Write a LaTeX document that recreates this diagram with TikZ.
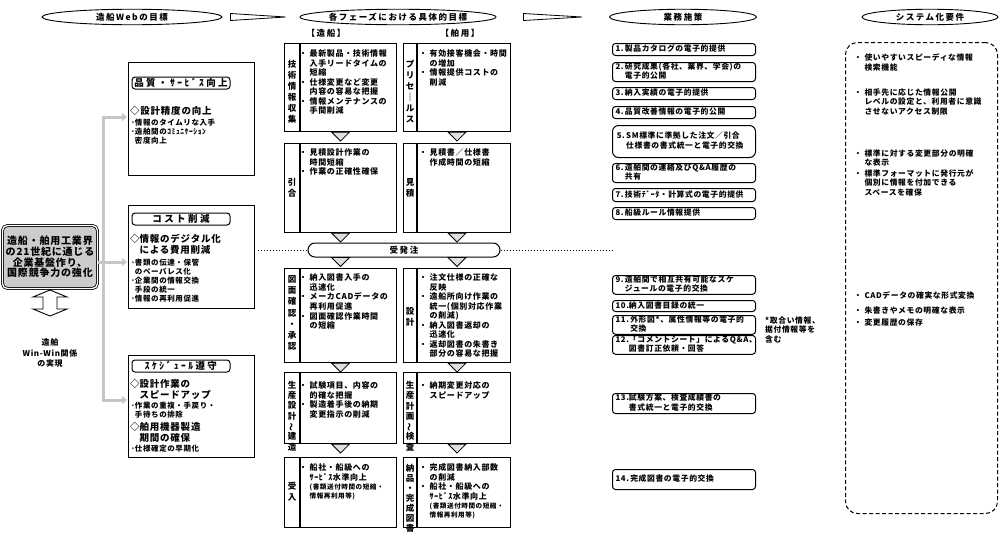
\documentclass[tikz,border=0pt]{standalone}
\usepackage{fontspec}
\setmainfont{Noto Sans CJK JP}[LetterSpace=8]
\newfontfamily\jpwide{Noto Sans CJK JP}[LetterSpace=18]
\newfontfamily\jpwider{Noto Sans CJK JP}[LetterSpace=26]
\usetikzlibrary{shapes.geometric,calc,arrows.meta}
\newcommand\bl[1]{\begin{tabular}{@{}l@{\hspace{2.5pt}}l@{}}#1\end{tabular}}
\newcommand\sbl[1]{\begin{tabular}{@{}l@{}l@{}}#1\end{tabular}}
\newcommand\vtl{\rotatebox[origin=c]{90}{～}}
\newcommand\smf{\fontsize{6.6}{8.9}\selectfont}
\begin{document}
\begin{tikzpicture}[x=1pt,y=-1pt,
 hdr/.style={draw, line width=0.9pt, ellipse, inner sep=0pt, minimum height=15.5pt, font=\jpwide\bfseries\fontsize{8.5}{10}\selectfont},
 shdr/.style={inner sep=0pt, font=\jpwide\bfseries\fontsize{8.5}{10}\selectfont},
 wedge/.style={draw, line width=0.8pt, fill=white},
 gbox/.style={draw, line width=1.1pt, anchor=north west, inner sep=0pt, minimum width=126pt},
 gtitle/.style={draw, line width=1pt, rounded corners=3pt, minimum width=98pt, minimum height=12pt, inner sep=0pt, font=\jpwider\bfseries\fontsize{9.5}{11}\selectfont},
 dtxt/.style={anchor=north west, inner sep=0pt, font=\bfseries\fontsize{9.5}{11.5}\selectfont},
 gtxt/.style={anchor=north west, inner sep=0pt, font=\bfseries\fontsize{7.5}{8.9}\selectfont},
 stxt/.style={anchor=north west, inner sep=0pt, font=\bfseries\fontsize{8}{8.9}\selectfont},
 ctxt/.style={anchor=north west, inner sep=0pt, font=\bfseries\fontsize{7.8}{8.9}\selectfont},
 pbox/.style={draw, line width=1.1pt, anchor=north west, inner sep=0pt},
 vlab/.style={align=center, inner sep=0pt, font=\bfseries\fontsize{8.5}{11}\selectfont},
 tri/.style={draw, line width=0.8pt, fill=gray!25},
 gl/.style={draw=gray!45, line width=3pt},
 gar/.style={draw=gray!45, line width=3pt, -{Triangle[length=5pt,width=8pt]}, shorten >=1pt},
 mbox/.style={draw, line width=1pt, rounded corners=3pt, anchor=north west, minimum width=143pt, text width=137pt, inner xsep=3pt, inner ysep=0pt, align=left, font=\bfseries\fontsize{7.8}{8.9}\selectfont},
 sysbox/.style={draw, dash pattern=on 4pt off 2.5pt, line width=1pt, rounded corners=12pt, anchor=north west, minimum width=152pt, minimum height=471pt, inner sep=0pt}
]
\useasboundingbox (0,0) rectangle (1000,533);
\fill[white] (0,0) rectangle (1000,533);

% ---------- headers ----------
\node[hdr, minimum width=180pt] (h1) at (132,17) {造船Webの目標};
\node[hdr, minimum width=196pt] (h2) at (398,17) {各フェーズにおける具体的目標};
\node[hdr, minimum width=147pt] (h3) at (683,17) {業務施策};
\node[hdr, minimum width=136pt] (h4) at (930,17) {システム化要件};
\coordinate (w1s) at ($(h1.east)+(8,0)$);
\coordinate (w1e) at ($(h2.west)+(-14,0)$);
\coordinate (w2s) at ($(h2.east)+(27,0)$);
\coordinate (w2e) at ($(h3.west)+(-27,0)$);
\draw[wedge] ($(w1s)+(0,-3.5)$) -- (w1e) -- ($(w1s)+(0,3.5)$) -- cycle;
\draw[wedge] ($(w2s)+(0,-3.5)$) -- (w2e) -- ($(w2s)+(0,3.5)$) -- cycle;
\node[shdr] (zs) at (326,33) {【造船】};
\node[shdr] (hy) at (460,33) {【舶用】};

% ---------- left main box ----------
\node[draw, double, double distance=1.3pt, line width=0.8pt, fill=gray!40, rounded corners=5pt, minimum width=95pt, minimum height=63pt, align=center, inner sep=0pt, font=\bfseries\fontsize{10}{10.8}\selectfont] (main) at (50,257) {造船・舶用工業界\\の21世紀に通じる\\企業基盤作り、\\国際競争力の強化};
\draw[line width=0.9pt, fill=white] (50,290) -- (67,297) -- (57,297) -- (57,309) -- (67,309) -- (50,316) -- (33,309) -- (43,309) -- (43,297) -- (33,297) -- cycle;
\node[font=\bfseries\fontsize{8}{10.5}\selectfont, align=center, inner sep=0pt] (ww) at (50,353) {造舶\\Win-Win関係\\の実現};

% ---------- column 2 ----------
\node[gbox, minimum height=113pt] (g1) at (128,62) {};
\node[gtitle] (g1t) at (181,83) {品質・ｻｰﾋﾞｽ向上};
\node[dtxt] (g1a) at (130,105.6) {◇設計精度の向上};
\node[gtxt] (g1b) at (131,118.7) {\sbl{･&情報のタイムリな入手\\･&造舶間のｺﾐｭﾆｹｰｼｮﾝ\\&密度向上}};

\node[gbox, minimum height=103pt] (g2) at (128,205) {};
\node[gtitle] (g2t) at (181,219) {コスト削減};
\node[dtxt] (g2a) at (130,233.6) {\sbl{◇&情報のデジタル化\\&による費用削減}};
\node[gtxt] (g2b) at (131,258.7) {\sbl{･&書類の伝達・保管\\&のペーパレス化\\･&企業間の情報交換\\&手段の統一\\･&情報の再利用促進}};

\node[gbox, minimum height=102pt] (g3) at (128,355) {};
\node[gtitle] (g3t) at (181,366) {ｽｹｼﾞｭｰﾙ遵守};
\node[dtxt] (g3a) at (130,378.6) {\sbl{◇&設計作業の\\&スピードアップ}};
\node[gtxt] (g3b) at (131,401.7) {\sbl{･&作業の重複・手戻り・\\&手待ちの排除}};
\node[dtxt] (g3c) at (130,421.6) {\sbl{◇&舶用機器製造\\&期間の確保}};
\node[gtxt] (g3d) at (131,444.7) {\sbl{･&仕様確定の早期化}};

% gray connectors
\coordinate (gv1) at (103,117);
\coordinate (gv3) at (103,400);
\coordinate (m2) at ([yshift=-5pt]main.east);
\draw[gl] ([yshift=1.5pt]gv1) -- (gv3);
\draw[gar] (gv1) -- (gv1 -| g1.west);
\draw[gar] (m2) -- (m2 -| g2.west);
\draw[gar] ([xshift=-1.5pt]gv3) -- (gv3 -| g3.west);

% ---------- phase boxes ----------
\node[pbox, minimum width=112pt, minimum height=88pt] (s1) at (284,43) {};
\node[pbox, minimum width=112pt, minimum height=89pt] (s2) at (284,143) {};
\node[pbox, minimum width=112pt, minimum height=94pt] (s3) at (284,268) {};
\node[pbox, minimum width=112pt, minimum height=71pt] (s4) at (284,372) {};
\node[pbox, minimum width=112pt, minimum height=70pt] (s5) at (284,457) {};
\node[pbox, minimum width=107pt, minimum height=88pt] (m1) at (403,43) {};
\node[pbox, minimum width=107pt, minimum height=89pt] (m2b) at (403,143) {};
\node[pbox, minimum width=107pt, minimum height=94pt] (m3) at (403,268) {};
\node[pbox, minimum width=107pt, minimum height=71pt] (m4) at (403,372) {};
\node[pbox, minimum width=107pt, minimum height=70pt] (m5) at (403,457) {};
\foreach \n in {s1,s2,s3,s4,s5}
  \draw[line width=1.1pt] ([xshift=16pt]\n.north west) -- ([xshift=16pt]\n.south west);
\foreach \n in {m1,m2b,m3,m4,m5}
  \draw[line width=1.1pt] ([xshift=14pt]\n.north west) -- ([xshift=14pt]\n.south west);

% order bar
\node[draw, line width=1pt, rounded corners=7pt, minimum width=192pt, minimum height=14pt, inner sep=0pt, fill=white, font=\jpwide\bfseries\fontsize{8.5}{10}\selectfont] (bar) at (404,250) {受発注};
\coordinate (dl) at (258,250);
\coordinate (dr) at (612,250);
\draw[dotted, line width=1pt] (dl) -- (bar.west);
\draw[dotted, line width=1pt] (bar.east) -- (dr);

% triangles
\foreach \n in {s1,s2,s3,s4,m1,m2b,m3,m4}
  \draw[tri] ([xshift=-9pt]\n.south) -- ([xshift=9pt]\n.south) -- ([yshift=-9pt]\n.south) -- cycle;
\coordinate (ta) at (s3.north |- bar.south);
\coordinate (tb) at (m3.north |- bar.south);
\foreach \c in {ta,tb}
  \draw[tri] ([xshift=-9pt]\c) -- ([xshift=9pt]\c) -- ([yshift=-9pt]\c) -- cycle;

% labels
\node[vlab] (s1l) at (292,92) {技\\術\\情\\報\\収\\集};
\node[vlab] (m1l) at (410,92) {プ\\リ\\セ\\｜\\ル\\ス};
\node[vlab] (s2l) at (292,188) {引\\合};
\node[vlab] (m2l) at (410,188) {見\\積};
\node[vlab, font=\bfseries\fontsize{8.5}{11.2}\selectfont] (s3l) at (292,313) {図\\面\\確\\認\\・\\承\\認};
\node[vlab] (m3l) at (410,317) {設\\計};
\node[vlab, font=\bfseries\fontsize{8.5}{10.3}\selectfont] (s4l) at (292,416) {生\\産\\設\\計\\\vtl\\建\\造};
\node[vlab, font=\bfseries\fontsize{8.5}{10.3}\selectfont] (m4l) at (410,416) {生\\産\\計\\画\\\vtl\\検\\査};
\node[vlab] (s5l) at (292,492) {受\\入};
\node[vlab, font=\bfseries\fontsize{8.5}{10}\selectfont] (m5l) at (410,498) {納\\品\\・\\完\\成\\図\\書};

% phase texts
\node[stxt] (s1t) at (299,49.7) {\bl{・&最新製品・技術情報\\&入手リードタイムの\\&短縮\\・&仕様変更など変更\\&内容の容易な把握\\・&情報メンテナンスの\\&手間削減}};
\node[stxt] (m1t) at (419,49.7) {\bl{・&有効接客機会・時間\\&の増加\\・&情報提供コストの\\&削減}};
\node[stxt] (s2t) at (299,148.7) {\bl{・&見積設計作業の\\&時間短縮\\・&作業の正確性確保}};
\node[stxt] (m2t) at (419,148.7) {\bl{・&見積書／仕様書\\&作成時間の短縮}};
\node[stxt] (s3t) at (299,273.7) {\bl{・&納入図書入手の\\&迅速化\\・&メーカCADデータの\\&再利用促進\\・&図面確認作業時間\\&の短縮}};
\node[stxt] (m3t) at (419,273.7) {\bl{・&注文仕様の正確な\\&反映\\・&造船所向け作業の\\&統一(個別対応作業\\&の削減)\\・&納入図書返却の\\&迅速化\\・&返却図書の朱書き\\&部分の容易な把握}};
\node[stxt] (s4t) at (299,381.7) {\bl{・&試験項目、内容の\\&的確な把握\\・&製造着手後の納期\\&変更指示の削減}};
\node[stxt] (m4t) at (419,381.7) {\bl{・&納期変更対応の\\&スピードアップ}};
\node[stxt] (s5t) at (299,463.7) {\bl{・&船社・船級への\\&ｻｰﾋﾞｽ水準向上\\&{\smf (書類送付時間の短縮・}\\&{\smf 情報再利用等)}}};
\node[stxt] (m5t) at (419,463.7) {\bl{・&完成図書納入部数\\&の削減\\・&船社・船級への\\&ｻｰﾋﾞｽ水準向上\\&{\smf (書類送付時間の短縮・}\\&{\smf 情報再利用等)}}};

% ---------- column 5 ----------
\node[mbox, minimum height=12pt] (b1) at (612,43) {\sbl{1.\,&製品カタログの電子的提供}};
\node[mbox, minimum height=19pt] (b2) at (612,62) {\sbl{2.\,&研究成果(各社、業界、学会)の\\&電子的公開}};
\node[mbox, minimum height=12pt] (b3) at (612,87) {\sbl{3.\,&納入実績の電子的提供}};
\node[mbox, minimum height=12pt] (b4) at (612,106) {\sbl{4.\,&品質改善情報の電子的公開}};
\node[mbox, minimum height=32pt, rounded corners=6pt] (b5) at (612,125) {\sbl{\,5.\,&SM標準に準拠した注文／引合\\&仕様書の書式統一と電子的交換}};
\node[mbox, minimum height=19pt] (b6) at (612,163) {\sbl{6.\,&造舶間の連絡及びQ\&A履歴の\\&共有}};
\node[mbox, minimum height=13pt] (b7) at (612,188) {\sbl{7.\,&技術ﾃﾞｰﾀ・計算式の電子的提供}};
\node[mbox, minimum height=12pt] (b8) at (612,207) {\sbl{8.\,&船級ルール情報提供}};
\node[mbox, minimum height=18pt] (b9) at (612,275) {\sbl{9.\,&造舶間で相互共有可能なスケ\\&ジュールの電子的交換}};
\node[mbox, minimum height=11pt] (b10) at (612,300) {\sbl{10.&納入図書目録の統一}};
\node[mbox, minimum height=17pt] (b11) at (612,315) {\sbl{11.\,&外形図*、属性情報等の電子的\\&交換}};
\node[mbox, minimum height=18pt] (b12) at (612,335) {\sbl{12.&「コメントシート」によるQ\&A、\\&図書訂正依頼・回答}};
\node[mbox, minimum height=20pt] (b13) at (612,393) {\sbl{13.&試験方案、検査成績書の\\&書式統一と電子的交換}};
\node[mbox, minimum height=20pt] (b14) at (612,469) {\sbl{14.\,&完成図書の電子的交換}};
\node[ctxt] (note) at (765,316.7) {\sbl{*取合い情報、\\据付情報等を\\含む}};

% ---------- column 6 ----------
\node[sysbox] (sys) at (845,42) {};
\node[ctxt] (c1) at (854,53.7) {\bl{・&使いやすいスピーディな情報\\&検索機能}};
\node[ctxt] (c2) at (854,88.7) {\bl{・&相手先に応じた情報公開\\&レベルの設定と、利用者に意識\\&させないアクセス制限}};
\node[ctxt] (c3) at (854,149.7) {\bl{・&標準に対する変更部分の明確\\&な表示\\[1pt]・&標準フォーマットに発行元が\\&個別に情報を付加できる\\&スペースを確保}};
\node[ctxt] (c4) at (854,291.7) {\bl{・&CADデータの確実な形式変換\\[5pt]・&朱書きやメモの明確な表示\\[3pt]・&変更履歴の保存}};
\end{tikzpicture}
\end{document}
